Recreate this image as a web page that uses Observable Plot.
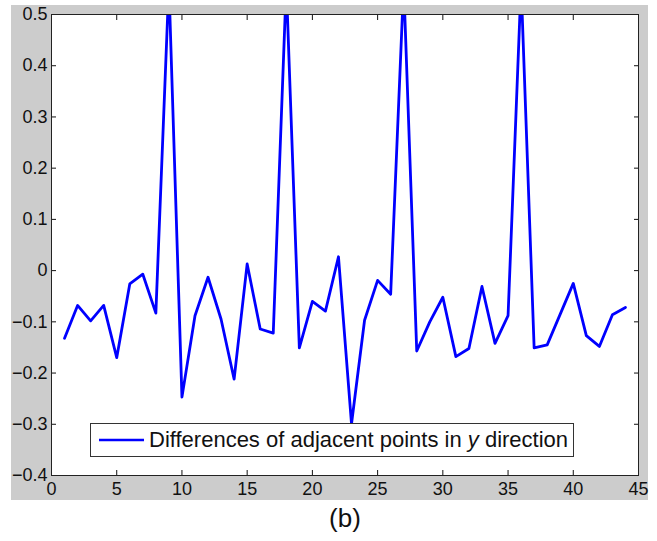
<!DOCTYPE html>
<html>
<head>
<meta charset="utf-8">
<script src="https://cdn.jsdelivr.net/npm/d3@7"></script>
<script src="https://cdn.jsdelivr.net/npm/@observablehq/plot@0.6"></script>
<style>
  html, body { margin: 0; padding: 0; background: #fff; }
  #wrap { position: relative; width: 657px; height: 541px; font-family: "Liberation Sans", Arial, sans-serif; }
  #bg { position: absolute; left: 11px; top: 5px; width: 637px; height: 495px; background: #cccccc; }
  #chart { position: absolute; left: 0; top: 0; }
  #legend { position: absolute; left: 90px; top: 423px; width: 482px; height: 32px; border: 1px solid #333; background: #fff;
            display: flex; align-items: center; font-size: 22px; color: #111; white-space: nowrap; }
  #legend svg { margin-left: 8px; margin-right: 5px; flex: none; }
  #caption { position: absolute; left: 0; width: 690px; top: 503px; text-align: center; font-size: 26px; color: #111; }
</style>
</head>
<body>
<div id="wrap">
  <div id="bg"></div>
  <div id="chart"></div>
  <div id="legend"><svg width="45" height="10"><line x1="0" y1="5" x2="45" y2="5" stroke="#0000ff" stroke-width="2.5"/></svg><span>Differences of adjacent points in <i>y</i> direction</span></div>
  <div id="caption">(b)</div>
</div>
<script>
const index = [1,2,3,4,5,6,7,8,9,10,11,12,13,14,15,16,17,18,19,20,21,22,23,24,25,26,27,28,29,30,31,32,33,34,35,36,37,38,39,40,41,42,43,44];
const diffY = [-0.132,-0.068,-0.098,-0.068,-0.170,-0.026,-0.007,-0.083,0.56,-0.247,
               -0.088,-0.013,-0.095,-0.212,0.013,-0.114,-0.122,0.56,-0.151,-0.060,
               -0.079,0.027,-0.299,-0.097,-0.019,-0.046,0.56,-0.157,-0.100,-0.052,
               -0.168,-0.152,-0.031,-0.142,-0.088,0.56,-0.151,-0.145,-0.085,-0.025,
               -0.127,-0.148,-0.086,-0.072];
const xTicks = [0,5,10,15,20,25,30,35,40,45];
const yTicks = [-0.4,-0.3,-0.2,-0.1,0,0.1,0.2,0.3,0.4,0.5];

const data = index.map((x, i) => ({x, y: diffY[i]}));
const blank = () => "";

const chart = Plot.plot({
  width: 657,
  height: 505,
  marginLeft: 51,
  marginRight: 19,
  marginTop: 14,
  marginBottom: 30,
  style: { background: "transparent", fontFamily: "'Liberation Sans', Arial, sans-serif", fontSize: "18px", color: "#111" },
  x: { domain: [0, 45] },
  y: { domain: [-0.4, 0.5] },
  marks: [
    Plot.frame({ fill: "white" }),
    Plot.line(data, { x: "x", y: "y", stroke: "#0000ff", strokeWidth: 2.8, clip: true }),
    Plot.axisX(xTicks, { anchor: "bottom", tickSize: 0, tickPadding: 7, label: null, fill: "#111", fontSize: 18 }),
    Plot.axisY(yTicks, { anchor: "left", tickSize: 0, tickPadding: 4, label: null, fontSize: 18, tickFormat: d => d === 0 ? "0" : d3.format(".1f")(d).replace("-", "\u2212"), fill: "#111" }),
    Plot.axisX(xTicks, { anchor: "bottom", tickSize: 5, dy: -5, tickFormat: blank, label: null }),
    Plot.axisX(xTicks, { anchor: "top", tickSize: 5, dy: 5, tickFormat: blank, label: null }),
    Plot.axisY(yTicks, { anchor: "left", tickSize: 5, dx: 5, tickFormat: blank, label: null }),
    Plot.axisY(yTicks, { anchor: "right", tickSize: 5, dx: -5, tickFormat: blank, label: null }),
    Plot.frame({ stroke: "#222", strokeWidth: 1 })
  ]
});
document.getElementById("chart").appendChild(chart);
</script>
</body>
</html>
